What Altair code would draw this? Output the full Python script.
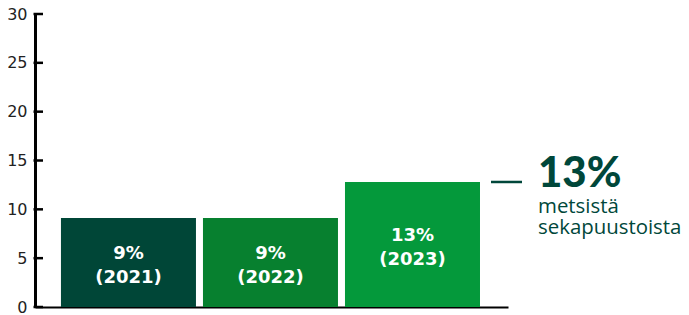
import altair as alt
import pandas as pd

years = ["2021", "2022", "2023"]
values = [9.1, 9.1, 12.8]
pct_labels = ["9%", "9%", "13%"]
bar_colors = ["#004637", "#07802f", "#04993b"]
y_ticks = [0, 5, 10, 15, 20, 25, 30]
callout_value = [12.8]
callout_big = ["13%"]
callout_text = ["metsistä\nsekapuustoista"]

df = pd.DataFrame({"year": years, "value": values, "pct": pct_labels})
df["label"] = df["pct"] + "\n(" + df["year"] + ")"
ticks_df = pd.DataFrame({"t": y_ticks})
ann_df = pd.DataFrame({"value": callout_value, "big": callout_big, "txt": callout_text})

yscale = alt.Scale(domain=[0, 30], nice=False)
xscale = alt.Scale(paddingInner=0.0493, paddingOuter=0.19, align=0.481)

base = alt.Chart(df)

bars = base.mark_bar().encode(
    x=alt.X("year:N", scale=xscale,
            axis=alt.Axis(title=None, labels=False, ticks=False,
                          domainColor="black", domainWidth=2)),
    y=alt.Y("value:Q", scale=yscale,
            axis=alt.Axis(values=y_ticks, title=None, grid=False, ticks=False,
                          domainWidth=3, domainColor="black",
                          labelFontSize=16, labelFont="DejaVu Sans",
                          labelColor="#222222", labelPadding=8)),
    color=alt.Color("year:N", scale=alt.Scale(domain=years, range=bar_colors), legend=None),
)

labels = base.transform_calculate(mid="datum.value / 2").mark_text(
    lineBreak="\n", lineHeight=24, font="DejaVu Sans", fontWeight="bold",
    fontSize=18, color="white", baseline="middle", dy=-8.5
).encode(
    x=alt.X("year:N", scale=xscale),
    y=alt.Y("mid:Q", scale=yscale),
    text="label:N",
)

tick_rules = alt.Chart(ticks_df).mark_rule(color="black", strokeWidth=2.5).encode(
    x=alt.value(-1.5), x2=alt.value(8),
    y=alt.Y("t:Q", scale=yscale),
)

ann = alt.Chart(ann_df)
ann_line = ann.mark_rule(color="#00473a", strokeWidth=2.5).encode(
    x=alt.value(456), x2=alt.value(487),
    y=alt.Y("value:Q", scale=yscale),
)
ann_big = ann.mark_text(
    align="left", baseline="alphabetic", font="Lato", fontWeight=900,
    fontSize=42, color="#00473a", dy=5.5
).encode(
    x=alt.value(503), y=alt.Y("value:Q", scale=yscale), text="big:N",
)
ann_txt = ann.mark_text(
    align="left", baseline="alphabetic", font="Open Sans", fontSize=20.4,
    color="#00473a", lineBreak="\n", lineHeight=20.5, dy=31.5
).encode(
    x=alt.value(503), y=alt.Y("value:Q", scale=yscale), text="txt:N",
)

chart = alt.layer(bars, labels, tick_rules, ann_line, ann_big, ann_txt).properties(
    width=473, height=293,
    autosize=alt.AutoSizeParams(type="none"),
    padding={"left": 27, "top": 6, "right": 173, "bottom": 8},
).configure_view(stroke=None)

chart.save("out.html", embed_options={"renderer": "svg", "actions": False})
